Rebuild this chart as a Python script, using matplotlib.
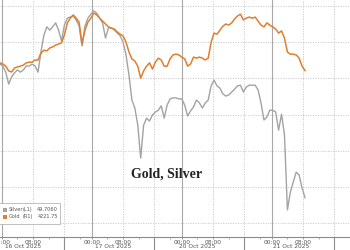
import numpy as np
import matplotlib
matplotlib.use("Agg")
import matplotlib.pyplot as plt
from matplotlib.patches import Rectangle
from matplotlib.lines import Line2D

# ---- data -------------------------------------------------------------
# trading-time hours since 16 Oct 2025 00:00 (each session = 23 h), 45-min bars
trading_hours = np.arange(105) * 0.75 - 0.5

gold = [4243, 4240, 4234, 4221, 4218, 4229, 4232, 4234, 4237, 4243,
        4245, 4245, 4251, 4251, 4270, 4278, 4276, 4284, 4287, 4292,
        4295, 4298, 4320, 4353, 4366, 4375, 4366, 4355, 4295, 4333,
        4355, 4366, 4380, 4375, 4366, 4358, 4350, 4342, 4339, 4336,
        4328, 4322, 4317, 4300, 4273, 4254, 4248, 4234, 4201, 4221,
        4234, 4243, 4226, 4245, 4256, 4251, 4234, 4234, 4254, 4265,
        4267, 4265, 4259, 4254, 4234, 4240, 4259, 4256, 4259, 4256,
        4251, 4256, 4300, 4325, 4322, 4333, 4344, 4350, 4347, 4353,
        4364, 4372, 4377, 4361, 4366, 4369, 4366, 4369, 4358, 4347,
        4342, 4353, 4347, 4342, 4336, 4325, 4331, 4311, 4273, 4267,
        4267, 4265, 4256, 4234, 4221.75]

silver = [53.39, 53.34, 53.17, 52.84, 53.04, 53.15, 53.23, 53.17, 53.23, 53.34,
          53.34, 53.39, 53.34, 53.17, 53.73, 54.19, 54.42, 54.33, 54.42, 54.53,
          54.33, 54.03, 54.47, 54.66, 54.69, 54.72, 54.61, 54.44, 53.89, 54.44,
          54.66, 54.77, 54.86, 54.80, 54.66, 54.53, 54.11, 54.39, 54.39, 54.33,
          54.25, 54.17, 54.00, 53.64, 53.09, 52.40, 52.18, 51.71, 50.80, 51.71,
          51.90, 51.82, 51.99, 52.07, 52.12, 52.24, 51.90, 52.26, 52.43, 52.46,
          52.46, 52.43, 52.43, 52.26, 51.96, 52.10, 52.21, 52.40, 52.32, 52.18,
          52.32, 52.40, 52.79, 52.95, 52.79, 52.73, 52.57, 52.51, 52.54, 52.62,
          52.70, 52.79, 52.81, 52.62, 52.76, 52.81, 52.81, 52.81, 52.68, 52.32,
          51.85, 51.93, 52.12, 52.12, 52.07, 51.57, 52.01, 51.44, 49.37, 49.86,
          50.14, 50.41, 50.33, 49.97, 49.706]

day_labels = ["16 Oct 2025", "17 Oct 2025", "20 Oct 2025", "21 Oct 2025"]
day_start_hours = [0, 23, 46, 69]
legend_names = ["Silver", "Gold"]
legend_axes = ["(L1)", "(R1)"]
legend_values = ["49.7060", "4221.75"]

# ---- style ------------------------------------------------------------
GOLD_C = "#e07f2e"
SILVER_C = "#a3a3a3"
W, H = 350, 250
AX_BOTTOM_PX = 236.7

fig = plt.figure(figsize=(W / 100, H / 100), dpi=100)
ax = fig.add_axes([0, (H - AX_BOTTOM_PX) / H, 1, AX_BOTTOM_PX / H])
ax2 = ax.twinx()

ax.set_xlim(-0.47, 81.9)
ax.set_ylim(48.63, 55.16)
ax2.set_ylim(3765, 4416)

for a in (ax, ax2):
    for s in ("top", "left", "right"):
        a.spines[s].set_visible(False)
    a.spines["bottom"].set_visible(a is ax)
    a.tick_params(axis="y", left=False, right=False, labelleft=False, labelright=False)
ax.spines["bottom"].set_color("#8c8c8c")
ax.spines["bottom"].set_linewidth(0.8)

# horizontal grid
ax.set_yticks([49, 50, 51, 52, 53, 54, 55])
ax.yaxis.grid(True, color="#c8c8c8", linestyle=(0, (1.5, 1.5)), linewidth=0.6)
ax.set_axisbelow(True)

# vertical grid
for d in day_start_hours:
    ax.axvline(d, color="#a8a8a8", linewidth=0.8, zorder=0)
    for off in (8, 16):
        ax.axvline(d + off, color="#c8c8c8", linestyle=(0, (1.5, 1.5)), linewidth=0.6, zorder=0)
    # session separator below the axis
    ax.add_line(Line2D([d + 16, d + 16], [0, -(H - AX_BOTTOM_PX) / AX_BOTTOM_PX],
                       transform=ax.get_xaxis_transform(), color="#8c8c8c",
                       linewidth=0.8, clip_on=False))

# x ticks
major = []
labels = []
for d in day_start_hours:
    major += [d, d + 8]
    labels += ["00:00", "08:00"]
ax.set_xticks(major)
ax.set_xticklabels(labels)
minor = []
for d in day_start_hours:
    minor += [d + 4, d + 12, d + 20]
ax.set_xticks(minor, minor=True)
ax.tick_params(axis="x", which="major", length=1.5, width=0.6, color="#8c8c8c",
               labelsize=4.2, labelcolor="#555555", pad=0.6)
ax.tick_params(axis="x", which="minor", length=1.2, width=0.5, color="#8c8c8c")

for d, lab, off in zip(day_start_hours, day_labels, [5.5, 5.5, 4.0, 5.0]):
    ax.text(d + off, -10.3 / AX_BOTTOM_PX, lab, transform=ax.get_xaxis_transform(),
            ha="center", va="center", fontsize=4.2, color="#555555")

# series
ax.plot(trading_hours, silver, color=SILVER_C, linewidth=1.0)
ax2.plot(trading_hours, gold, color=GOLD_C, linewidth=1.1)

# title
fig.text(166.5 / W, 1 - 174 / H, "Gold, Silver", ha="center", va="center",
         family="Liberation Serif", weight="bold", fontsize=10, color="#222222")

# legend box
def fx(x):
    return x / W

def fy(y):
    return 1 - y / H

fig.patches.append(Rectangle((fx(-1), fy(224)), 61 / W, 21 / H, transform=fig.transFigure,
                             facecolor="white", edgecolor="#b5b5b5", linewidth=0.6, zorder=5))
for i, (nm, axn, val, col) in enumerate(zip(legend_names, legend_axes, legend_values,
                                            [SILVER_C, GOLD_C])):
    yc = 209.5 + i * 7
    fig.patches.append(Rectangle((fx(2.5), fy(yc + 2)), 4 / W, 4 / H, transform=fig.transFigure,
                                 facecolor=col, edgecolor="none", zorder=6))
    fig.text(fx(8.5), fy(yc), nm, ha="left", va="center", fontsize=3.6, color="#555555", zorder=7)
    fig.text(fx(23), fy(yc), axn, ha="left", va="center", fontsize=3.6, color="#555555", zorder=7)
    fig.text(fx(58), fy(yc), val, ha="right", va="center", fontsize=3.6, color="#555555", zorder=7)

fig.savefig("out.png", dpi=100)
